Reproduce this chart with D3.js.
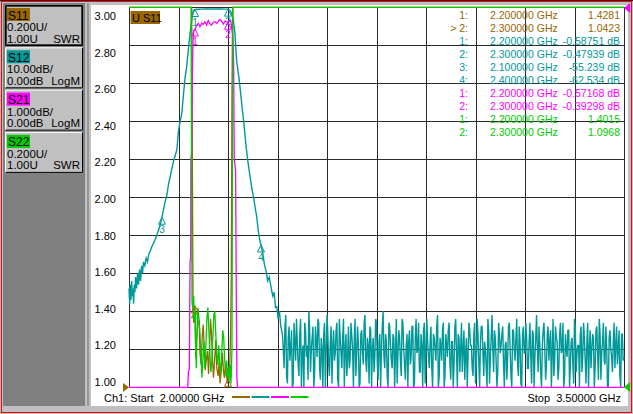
<!DOCTYPE html>
<html><head><meta charset="utf-8">
<script src="https://cdn.jsdelivr.net/npm/d3@7"></script>
<style>
body{margin:0;background:#c0c0c0;overflow:hidden}
svg{display:block;font-family:"Liberation Sans",Arial,sans-serif}
</style></head><body>
<div id="vna"></div>
<script>
// sweep and grid
const sweepStart = 2.0, sweepStop = 3.5;
const xGridGHz = [2.0, 2.15, 2.3, 2.45, 2.6, 2.75, 2.9, 3.05, 3.2, 3.35, 3.5];
const swrTicks = [3.0, 2.8, 2.6, 2.4, 2.2, 2.0, 1.8, 1.6, 1.4, 1.2, 1.0];

// channel buttons on the left
const paramNames = ["S11", "S12", "S21", "S22"];
const paramColors = ["#996600", "#009999", "#ff00ff", "#00cc00"];
const scaleText = ["0.200U/", "10.00dB/", "1.000dB/", "0.200U/"];
const refText = ["1.00U", "0.00dB", "0.00dB", "1.00U"];
const formatText = ["SWR", "LogM", "LogM", "SWR"];

// S11 (SWR)
const s11Freq = [2.000, 2.188, 2.190, 2.192, 2.194, 2.196, 2.200, 2.201, 2.203, 2.205, 2.209, 2.213, 2.215, 2.2185, 2.222, 2.225, 2.228, 2.231, 2.234, 2.238, 2.241, 2.244, 2.247, 2.250, 2.253, 2.256, 2.259, 2.263, 2.266, 2.270, 2.273, 2.276, 2.280, 2.283, 2.286, 2.289, 2.292, 2.295, 2.298, 2.300, 2.302, 2.305, 2.308, 2.310, 2.312, 2.314, 2.316, 3.500];
const s11Swr = [9, 9, 4.0, 2.2, 1.45, 1.34, 1.43, 1.28, 1.15, 1.26, 1.34, 1.35, 1.18, 1.12, 1.27, 1.33, 1.20, 1.09, 1.14, 1.19, 1.07, 1.20, 1.36, 1.28, 1.15, 1.05, 1.13, 1.25, 1.10, 1.06, 1.13, 1.02, 1.10, 1.18, 1.09, 1.05, 1.12, 1.08, 1.02, 1.04, 1.11, 1.08, 1.30, 1.60, 2.5, 4.0, 9, 9];

// S22 (SWR)
const s22Freq = [2.000, 2.186, 2.188, 2.190, 2.191, 2.194, 2.196, 2.198, 2.200, 2.202, 2.204, 2.206, 2.209, 2.212, 2.215, 2.218, 2.221, 2.224, 2.227, 2.230, 2.233, 2.236, 2.239, 2.242, 2.245, 2.248, 2.251, 2.254, 2.257, 2.260, 2.263, 2.266, 2.269, 2.272, 2.275, 2.278, 2.281, 2.284, 2.287, 2.290, 2.293, 2.296, 2.298, 2.300, 2.303, 2.306, 2.309, 2.312, 2.313, 2.314, 2.315, 2.317, 3.500];
const s22Swr = [9, 9, 3.2, 2.0, 1.45, 1.40, 1.48, 1.35, 1.40, 1.20, 1.10, 1.30, 1.42, 1.36, 1.28, 1.16, 1.05, 1.15, 1.24, 1.10, 1.22, 1.36, 1.42, 1.30, 1.18, 1.08, 1.14, 1.26, 1.38, 1.40, 1.28, 1.17, 1.12, 1.22, 1.12, 1.07, 1.18, 1.30, 1.26, 1.14, 1.10, 1.14, 1.06, 1.10, 1.03, 1.12, 1.02, 1.20, 1.8, 2.6, 3.4, 9, 9];

// S21 (dB)
const s21Freq = [2.000, 2.178, 2.180, 2.183, 2.185, 2.187, 2.1875, 2.190, 2.192, 2.193, 2.194, 2.196, 2.200, 2.205, 2.210, 2.215, 2.220, 2.225, 2.230, 2.235, 2.240, 2.245, 2.250, 2.255, 2.260, 2.266, 2.271, 2.276, 2.281, 2.286, 2.291, 2.296, 2.300, 2.304, 2.308, 2.311, 2.315, 2.317, 2.319, 2.323, 2.325, 2.327, 2.329, 3.500];
const s21Db = [-40, -40, -9.6, -9.5, -6.7, -6.6, -4.0, -3.8, -1.8, -1.3, -0.9, -0.62, -0.57, -0.48, -0.42, -0.51, -0.42, -0.45, -0.38, -0.47, -0.35, -0.43, -0.47, -0.40, -0.38, -0.42, -0.36, -0.32, -0.38, -0.44, -0.36, -0.38, -0.39, -0.36, -0.35, -0.51, -0.77, -1.47, -4.0, -4.3, -7.4, -9.8, -40, -40];

// S12 (dB) skirts and passband
const s12Freq = [2.000, 2.002, 2.004, 2.006, 2.008, 2.010, 2.012, 2.014, 2.016, 2.018, 2.020, 2.023, 2.026, 2.029, 2.032, 2.035, 2.038, 2.041, 2.044, 2.048, 2.052, 2.056, 2.060, 2.065, 2.069, 2.075, 2.080, 2.084, 2.090, 2.095, 2.100, 2.105, 2.110, 2.114, 2.120, 2.125, 2.129, 2.135, 2.140, 2.145, 2.150, 2.155, 2.160, 2.165, 2.170, 2.175, 2.180, 2.185, 2.190, 2.195, 2.200, 2.210, 2.220, 2.230, 2.240, 2.250, 2.260, 2.270, 2.280, 2.290, 2.300, 2.305, 2.311, 2.316, 2.321, 2.326, 2.330, 2.334, 2.342, 2.348, 2.355, 2.361, 2.367, 2.372, 2.377, 2.382, 2.387, 2.392, 2.397, 2.400, 2.405, 2.410, 2.417, 2.420, 2.425, 2.432, 2.436, 2.440, 2.444, 2.448, 2.452, 2.456, 2.460];
const s12Db = [-74, -78, -73, -77, -72, -76, -74, -78, -73, -75, -71, -74, -70, -73, -69, -72, -68, -70, -67, -68, -66, -67, -65, -64, -63, -62, -61, -60, -58.5, -57, -55.2, -53, -51, -49.8, -46.5, -44.5, -42.8, -40.5, -39, -37.5, -32.5, -30, -27.9, -23, -18.5, -15.5, -11, -6.8, -3.3, -0.9, -0.59, -0.52, -0.47, -0.44, -0.46, -0.45, -0.43, -0.46, -0.44, -0.47, -0.48, -0.7, -1.6, -3.3, -6.8, -13.9, -16.5, -19.1, -25.7, -30.5, -36.8, -41, -44.6, -47.5, -49.8, -52.5, -55.1, -59, -61.5, -62.5, -64.5, -67.5, -70, -72, -71, -74.4, -76, -75, -79, -78.8, -82, -80, -84];

// S12 noise floor: readings on the 5 MHz steps from 2.465 GHz ...
const noiseStart = 2.465, noiseStep = 0.005;
const s12NoiseDb = [
  -86, -95, -81, -99, -84, -90, -102, -83, -93, -88,
  -97, -82, -91, -104, -85, -89, -80, -96, -87, -100,
  -84, -92, -83, -98, -90, -86, -103, -81, -94, -88,
  -99, -85, -91, -83, -101, -87, -95, -82, -90, -97,
  -84, -93, -86, -105, -82, -91, -88, -99, -85, -94,
  -81, -96, -89, -84, -102, -87, -92, -83, -98, -86,
  -90, -80, -95, -88, -100, -84, -93, -86, -103, -82,
  -91, -87, -97, -83, -94, -89, -101, -85, -92, -84,
  -99, -82, -90, -96, -86, -104, -83, -91, -88, -95,
  -84, -100, -87, -93, -81, -97, -89, -85, -102, -86,
  -92, -83, -98, -88, -94, -82, -101, -87, -90, -96,
  -85, -91, -104, -83, -89, -95, -86, -99, -82, -93,
  -88, -84, -97, -90, -103, -85, -92, -81, -96, -87,
  -100, -83, -91, -86, -94, -89, -98, -84, -90, -102,
  -85, -93, -82, -97, -88, -105, -84, -91, -87, -95,
  -83, -99, -86, -92, -81, -96, -89, -101, -85, -90,
  -94, -84, -88, -103, -82, -93, -87, -98, -86, -91,
  -83, -97, -90, -85, -100, -88, -94, -82, -96, -89,
  -104, -84, -92, -87, -99, -83, -90, -95, -86, -101,
  -85, -91, -82, -98, -88, -93, -84, -102, -87, -90,
  -96, -83, -89, -94, -85, -100, -86, -92
];
// ... and the readings half a step after each of them
const s12NoiseMidDb = [
  -90, -84, -97, -87, -93, -85, -99, -88, -82, -94,
  -86, -101, -89, -83, -92, -98, -85, -90, -84, -96,
  -88, -82, -95, -87, -100, -83, -91, -86, -97, -84,
  -89, -93, -85, -98, -82, -91, -87, -103, -86, -92,
  -95, -83, -90, -88, -97, -84, -100, -86, -91, -83,
  -93, -87, -99, -85, -90, -96, -82, -94, -88, -101,
  -84, -92, -86, -97, -83, -89, -95, -87, -91, -99,
  -85, -93, -82, -90, -98, -86, -88, -94, -84, -100,
  -87, -91, -83, -96, -89, -85, -99, -82, -92, -88,
  -95, -86, -90, -84, -101, -87, -93, -83, -97, -89,
  -85, -94, -88, -100, -84, -91, -86, -96, -83, -90,
  -98, -87, -92, -85, -89, -97, -83, -94, -86, -102,
  -84, -91, -88, -95, -82, -99, -87, -90, -85, -93,
  -96, -86, -89, -84, -101, -88, -92, -83, -97, -85,
  -90, -87, -94, -84, -99, -86, -91, -83, -95, -88,
  -92, -85, -100, -87, -90, -84, -96, -89, -83, -98,
  -86, -93, -85, -91, -97, -84, -88, -95, -83, -90,
  -101, -86, -92, -85, -94, -87, -99, -84, -91, -89,
  -86, -96, -83, -93, -88, -102, -85, -90, -87, -95,
  -84, -98, -86, -91, -83, -94, -89, -100, -85, -92,
  -88, -95, -84, -90, -97, -86, -93
];

// marker table
const markerLabels = ["1:", "> 2:", "1:", "2:", "3:", "4:", "1:", "2:", "1:", "2:"];
const markerFreqs = [2.2, 2.3, 2.2, 2.3, 2.1, 2.4, 2.2, 2.3, 2.2, 2.3];
const markerValues = ["1.4281", "1.0423", "-0.58751 dB", "-0.47939 dB", "-55.239 dB", "-62.534 dB", "-0.57168 dB", "-0.39298 dB", "1.4015", "1.0968"];
const markerTrace = ["S11", "S11", "S12", "S12", "S12", "S12", "S21", "S21", "S22", "S22"];

const W = 633, H = 414;
const plot = {left: 129, right: 624, top: 7.3, bottom: 387.3};

const svg = d3.select("#vna").append("svg")
	.attr("width", W)
	.attr("height", H);

// window frame
svg.append("rect").attr("x", 0).attr("y", 0).attr("width", W).attr("height", H).attr("fill", "#c0c0c0");
svg.append("rect").attr("x", 0).attr("y", 0).attr("width", W).attr("height", 1).attr("fill", "#202020");
svg.append("rect").attr("x", 1.5).attr("y", 1.5).attr("width", W - 3).attr("height", H - 3)
	.attr("fill", "none").attr("stroke", "#ff0000").attr("stroke-width", 1);

// left channel panel
svg.append("rect").attr("x", 3).attr("y", 3).attr("width", 82).attr("height", 403).attr("fill", "#808080");
svg.append("rect").attr("x", 87.5).attr("y", 3).attr("width", 1).attr("height", 403).attr("fill", "#707070");

const btn = svg.append("g").selectAll("g")
	.data(paramNames)
	.join("g")
	.attr("transform", (d, i) => "translate(5," + (5 + i * 42.3) + ")");

btn.append("rect").attr("width", 78).attr("height", 41).attr("fill", "#c0c0c0");
btn.append("path")
	.attr("d", "M0.5,40.5 V0.5 H77.5")
	.attr("fill", "none")
	.attr("stroke", (d, i) => i == 0 ? "#000" : "#fff");
btn.append("path")
	.attr("d", "M0.5,40.5 H77.5 V0.5")
	.attr("fill", "none")
	.attr("stroke", "#000");
btn.filter((d, i) => i == 0).append("rect")
	.attr("x", 1.5).attr("y", 1.5).attr("width", 75).attr("height", 38)
	.attr("fill", "none").attr("stroke", "#404040");
btn.append("rect")
	.attr("x", 2).attr("y", 3).attr("width", 23).attr("height", 13)
	.attr("fill", (d, i) => paramColors[i]);
btn.append("text").attr("x", 3).attr("y", 14.5).attr("font-size", 12).text(d => d);
btn.append("text").attr("x", 2).attr("y", 26).attr("font-size", 11.5).text((d, i) => scaleText[i]);
btn.append("text").attr("x", 2).attr("y", 37.5).attr("font-size", 11.5).text((d, i) => refText[i]);
btn.append("text").attr("x", 75).attr("y", 37.5).attr("font-size", 11.5)
	.attr("text-anchor", "end").text((d, i) => formatText[i]);

// white display area
svg.append("rect").attr("x", 91).attr("y", 5).attr("width", 537).attr("height", 401).attr("fill", "#fff");

// scales
const x = d3.scaleLinear().domain([sweepStart, sweepStop]).range([plot.left, plot.right]);
const ySwr = d3.scaleLinear().domain([1, 3]).range([plot.bottom, plot.top]).clamp(true);
const yS12 = d3.scaleLinear().domain([-100, 0]).range([plot.bottom, plot.top]).clamp(true);
const yS21 = d3.scaleLinear().domain([-10, 0]).range([plot.bottom, plot.top]).clamp(true);
const yLabel = d3.scaleLinear().domain([3, 1]).range([16, 382]);

// grid
const grid = svg.append("g").attr("shape-rendering", "crispEdges");
grid.append("g")
	.attr("transform", "translate(0," + plot.bottom + ")")
	.call(d3.axisBottom(x).tickValues(xGridGHz).tickSize(-(plot.bottom - plot.top)).tickFormat(""))
	.call(g => g.select(".domain").remove());
grid.append("g")
	.attr("transform", "translate(" + plot.left + ",0)")
	.call(d3.axisLeft(ySwr).tickValues(swrTicks).tickSize(-(plot.right - plot.left)).tickFormat(""))
	.call(g => g.select(".domain").remove());
grid.selectAll("line").attr("stroke", "#2b2b2b").attr("stroke-width", 1);

// y labels for the active trace
svg.append("g")
	.attr("transform", "translate(116,0)")
	.call(d3.axisLeft(yLabel).tickValues(swrTicks).tickSize(0).tickPadding(0).tickFormat(d3.format(".2f")))
	.call(g => g.select(".domain").remove())
	.call(g => g.selectAll("text").attr("font-size", 11).attr("fill", "#000")
		.attr("font-family", "Liberation Sans, Arial, sans-serif"));

// traces
let noisePts = [];
s12NoiseDb.forEach((v, i) => {
	noisePts.push([noiseStart + i * noiseStep, v]);
	if (i < s12NoiseMidDb.length) noisePts.push([noiseStart + (i + 0.5) * noiseStep, s12NoiseMidDb[i]]);
});
const traces = [
	{name: "S12", color: paramColors[1], pts: d3.zip(s12Freq, s12Db).concat(noisePts), y: yS12, w: 1.4},
	{name: "S11", color: paramColors[0], pts: d3.zip(s11Freq, s11Swr), y: ySwr, w: 1.3},
	{name: "S21", color: paramColors[2], pts: d3.zip(s21Freq, s21Db), y: yS21, w: 1.3},
	{name: "S22", color: paramColors[3], pts: d3.zip(s22Freq, s22Swr), y: ySwr, w: 1.3}
];
const yFor = {S11: ySwr, S12: yS12, S21: yS21, S22: ySwr};
const colorFor = {S11: paramColors[0], S12: paramColors[1], S21: paramColors[2], S22: paramColors[3]};

svg.append("g").selectAll("path")
	.data(traces)
	.join("path")
	.attr("fill", "none")
	.attr("stroke", d => d.color)
	.attr("stroke-width", d => d.w)
	.attr("d", d => d3.line().x(p => x(p[0])).y(p => d.y(p[1]))(d.pts));

// reference level arrows
svg.append("path").attr("d", "M123,383 L129,387.3 L123,392 Z").attr("fill", paramColors[0]);
svg.append("path").attr("d", "M630,382 L624,387.3 L630,392 Z").attr("fill", paramColors[3]);
svg.append("path").attr("d", "M630,3 L624,8 L630,13 Z").attr("fill", paramColors[2]);

// markers on traces (numbers only where they show clearly)
const mk = svg.append("g").selectAll("g")
	.data(d3.range(markerFreqs.length))
	.join("g")
	.attr("transform", i => "translate(" + x(markerFreqs[i]) + "," + yFor[markerTrace[i]](parseFloat(markerValues[i])) + ")");
mk.append("path")
	.attr("d", "M0,0 L-3.5,7 L3.5,7 Z")
	.attr("fill", "none")
	.attr("stroke", i => colorFor[markerTrace[i]]);
mk.filter(i => markerTrace[i] == "S12" || markerTrace[i] == "S21")
	.append("text")
	.attr("y", 16)
	.attr("text-anchor", "middle")
	.attr("font-size", 10)
	.attr("fill", i => colorFor[markerTrace[i]])
	.text(i => markerLabels[i].replace("> ", "").replace(":", ""));

// active trace label
svg.append("rect").attr("x", 130.5).attr("y", 11).attr("width", 29.5).attr("height", 13).attr("fill", paramColors[0]);
svg.append("text").attr("x", 132).attr("y", 21.5).attr("font-size", 11).style("white-space", "pre").text("U S11");

// marker readout table
const rows = svg.append("g").selectAll("g")
	.data(d3.range(markerFreqs.length))
	.join("g")
	.attr("transform", i => "translate(0," + (19 + i * 13) + ")")
	.attr("fill", i => colorFor[markerTrace[i]])
	.attr("font-size", 10.5);
rows.append("text").attr("x", 468).attr("text-anchor", "end").style("white-space", "pre").text(i => markerLabels[i]);
rows.append("text").attr("x", 490).text(i => d3.format(".6f")(markerFreqs[i]) + " GHz");
rows.append("text").attr("x", 620).attr("text-anchor", "end").text(i => markerValues[i]);

// footer
svg.append("text").attr("x", 104).attr("y", 402).attr("font-size", 11).style("white-space", "pre")
	.text("Ch1: Start  " + d3.format(".5f")(sweepStart) + " GHz");
svg.append("text").attr("x", 621).attr("y", 402).attr("font-size", 11).attr("text-anchor", "end").style("white-space", "pre")
	.text("Stop  " + d3.format(".5f")(sweepStop) + " GHz");
svg.append("g").selectAll("rect")
	.data(paramColors)
	.join("rect")
	.attr("x", (d, i) => 232 + i * 19.5)
	.attr("y", 396)
	.attr("width", 18)
	.attr("height", 2)
	.attr("fill", d => d);
</script></body></html>
